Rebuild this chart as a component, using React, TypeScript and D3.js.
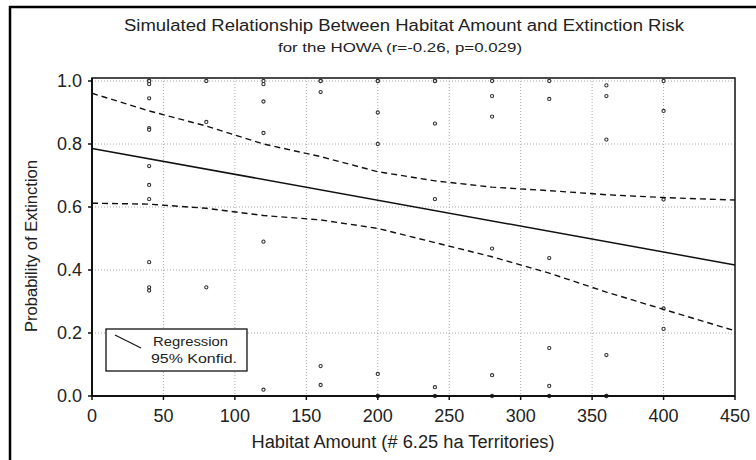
import React from "react";
import * as d3 from "d3";

// simulated outcomes: habitat amount (# territories) and extinction probability
const habitat = [
  40, 40, 40, 40, 40, 40, 40, 40, 40, 40, 40, 40,
  80, 80, 80,
  120, 120, 120, 120, 120, 120,
  160, 160, 160, 160, 160,
  200, 200, 200, 200, 200, 200, 200,
  240, 240, 240, 240, 240, 240,
  280, 280, 280, 280, 280, 280,
  320, 320, 320, 320, 320, 320,
  360, 360, 360, 360, 360, 360,
  400, 400, 400, 400, 400,
];
const extinction = [
  1.0, 1.0, 0.99, 0.945, 0.85, 0.845, 0.73, 0.67, 0.625, 0.425, 0.345, 0.335,
  1.0, 0.87, 0.345,
  1.0, 0.99, 0.935, 0.835, 0.49, 0.02,
  1.0, 1.0, 0.965, 0.095, 0.035,
  1.0, 1.0, 0.9, 0.8, 0.07, 0.0, 0.0,
  1.0, 1.0, 0.865, 0.625, 0.028, 0.0,
  1.0, 0.952, 0.887, 0.468, 0.066, 0.0,
  1.0, 0.943, 0.438, 0.152, 0.032, 0.0,
  0.986, 0.952, 0.814, 0.13, 0.0, 0.0,
  1.0, 0.905, 0.624, 0.278, 0.213,
];

// regression line and 95% confidence band
const regX = [0, 450];
const regY = [0.786, 0.416];
const bandX = [0, 40, 80, 120, 160, 200, 240, 280, 320, 360, 400, 450];
const bandUpper = [0.961, 0.905, 0.857, 0.8, 0.76, 0.712, 0.683, 0.663, 0.652, 0.639, 0.63, 0.622];
const bandLower = [0.612, 0.609, 0.596, 0.573, 0.559, 0.532, 0.487, 0.442, 0.39, 0.33, 0.275, 0.207];

const xTicks = [0, 50, 100, 150, 200, 250, 300, 350, 400, 450];
const yTicks = [0, 0.2, 0.4, 0.6, 0.8, 1.0];

const W = 756;
const H = 460;
const font = "'Liberation Sans', Arial, sans-serif";

export default function App() {
  const x = d3.scaleLinear().domain([0, 450]).range([92, 735]);
  const y = d3.scaleLinear().domain([0, 1]).range([396, 81]);
  const top = y(1) - 3;

  const line = d3
    .line<[number, number]>()
    .x((d) => x(d[0]))
    .y((d) => y(d[1]));

  const regPath = line(regX.map((v, i) => [v, regY[i]]));
  const upperPath = line(bandX.map((v, i) => [v, bandUpper[i]]));
  const lowerPath = line(bandX.map((v, i) => [v, bandLower[i]]));

  return (
    <svg
      width={W}
      height={H}
      style={{ position: "absolute", left: 0, top: 0, background: "#fff" }}
      fontFamily={font}
    >
      {/* outer frame, only top/left visible */}
      <rect x={10} y={7} width={800} height={500} fill="none" stroke="#000" strokeWidth={2.5} />

      <text x={404} y={31} textAnchor="middle" fontSize={16} textLength={560} lengthAdjust="spacingAndGlyphs" fill="#222">
        Simulated Relationship Between Habitat Amount and Extinction Risk
      </text>
      <text x={400} y={52} textAnchor="middle" fontSize={12} textLength={244} lengthAdjust="spacingAndGlyphs" fill="#222">
        for the HOWA (r=-0.26, p=0.029)
      </text>

      {/* grid */}
      {xTicks.slice(1, -1).map((t) => (
        <line key={"gx" + t} x1={x(t)} x2={x(t)} y1={top} y2={y(0)} stroke="#aaa" strokeDasharray="1,2" />
      ))}
      {yTicks.slice(1).map((t) => (
        <line key={"gy" + t} x1={x(0)} x2={x(450)} y1={y(t)} y2={y(t)} stroke="#aaa" strokeDasharray="1,2" />
      ))}

      {/* points */}
      {habitat.map((h, i) => (
        <circle
          key={"p" + i}
          cx={x(h)}
          cy={y(extinction[i])}
          r={1.6}
          fill="#fff"
          stroke="#333"
          strokeWidth={1.1}
        />
      ))}

      <path d={upperPath} fill="none" stroke="#111" strokeWidth={1.4} strokeDasharray="6,4" />
      <path d={lowerPath} fill="none" stroke="#111" strokeWidth={1.4} strokeDasharray="6,4" />
      <path d={regPath} fill="none" stroke="#111" strokeWidth={1.5} />

      {/* plot box */}
      <rect x={x(0)} y={top} width={x(450) - x(0)} height={y(0) - top} fill="none" stroke="#111" strokeWidth={1.5} />
      <line x1={x(0)} x2={x(450)} y1={y(0)} y2={y(0)} stroke="#111" strokeWidth={2} />
      <line x1={x(0)} x2={x(0)} y1={top} y2={y(0)} stroke="#111" strokeWidth={2} />

      {/* x axis */}
      {xTicks.map((t) => (
        <g key={"xt" + t}>
          <line x1={x(t)} x2={x(t)} y1={y(0)} y2={y(0) + 4} stroke="#111" strokeWidth={1.5} />
          <text x={x(t)} y={422} textAnchor="middle" fontSize={18} fill="#222">
            {t}
          </text>
        </g>
      ))}
      <text x={403} y={448} textAnchor="middle" fontSize={18} textLength={303} lengthAdjust="spacingAndGlyphs" fill="#222">
        Habitat Amount (# 6.25 ha Territories)
      </text>

      {/* y axis */}
      {yTicks.map((t) => (
        <g key={"yt" + t}>
          <line x1={x(0) - 4} x2={x(0)} y1={y(t)} y2={y(t)} stroke="#111" strokeWidth={1.5} />
          <text x={82} y={y(t)} dy="0.36em" textAnchor="end" fontSize={18} fill="#222">
            {t.toFixed(1)}
          </text>
        </g>
      ))}
      <text
        transform={`translate(37,246) rotate(-90)`}
        textAnchor="middle"
        fontSize={16}
        textLength={172}
        lengthAdjust="spacingAndGlyphs"
        fill="#222"
      >
        Probability of Extinction
      </text>

      {/* legend */}
      <rect x={106} y={329} width={141} height={42} fill="#fff" stroke="#111" strokeWidth={1.3} />
      <line x1={115} y1={335} x2={141} y2={348} stroke="#111" strokeWidth={1.2} />
      <text x={153} y={346} fontSize={12} textLength={75} lengthAdjust="spacingAndGlyphs" fill="#222">
        Regression
      </text>
      <text x={151} y={363} fontSize={12} textLength={86} lengthAdjust="spacingAndGlyphs" fill="#222">
        95% Konfid.
      </text>
    </svg>
  );
}
